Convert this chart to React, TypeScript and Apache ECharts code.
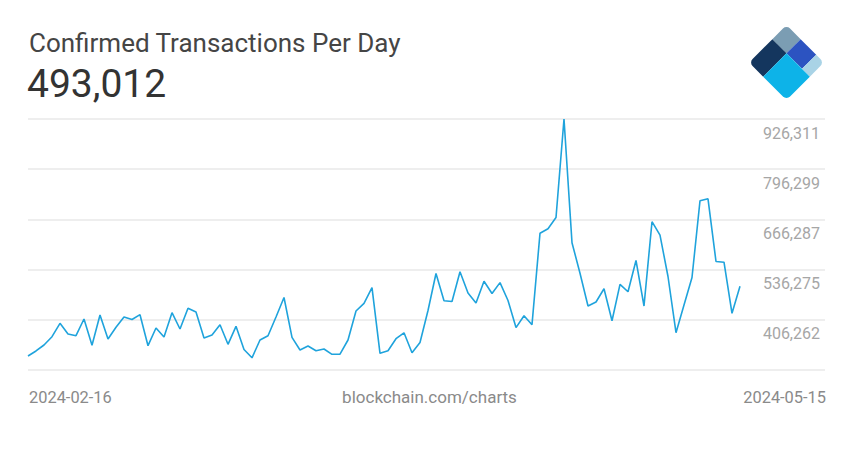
import React, { useEffect, useRef } from "react";
import * as echarts from "echarts";

const titleText = "Confirmed Transactions Per Day";
const headlineValue = "493,012";
const sourceText = "blockchain.com/charts";

const startDate = "2024-02-16";
const dayCount = 90;

const values = [
  312500, 325500, 341000, 362500, 397200, 369500, 365100, 408300, 340200, 418700,
  356500, 386800, 413500, 407000, 419500, 339200, 385000, 361700, 424700, 382400,
  436000, 426500, 359100, 366900, 393600, 342800, 389400, 329300, 307800, 353900,
  365100, 413500, 464000, 360900, 328100, 338400, 326200, 330600, 316900, 317200,
  353900, 429100, 449000, 489400, 319500, 326200, 357300, 372600, 321100, 347500,
  430400, 526200, 455700, 453700, 530800, 475700, 449800, 506200, 474400, 502600,
  456300, 386100, 416900, 393600, 630300, 642200, 671200, 926311, 606000, 526700,
  442000, 452400, 486600, 403700, 498200, 479000, 559900, 442000, 660300, 625400,
  518400, 372900, 444600, 515800, 714500, 719700, 557300, 555500, 423100, 493012,
];

const tickLabels = ["", "406,262", "536,275", "666,287", "796,299", "926,311"];
const axisMin = 276250;
const axisMax = 926311;

function buildDates(start: string, n: number): string[] {
  const out: string[] = [];
  const d0 = new Date(start + "T00:00:00Z").getTime();
  for (let i = 0; i < n; i++) {
    out.push(new Date(d0 + i * 86400000).toISOString().slice(0, 10));
  }
  return out;
}

const dates = buildDates(startDate, dayCount);

export default function App() {
  const ref = useRef<HTMLDivElement>(null);
  useEffect(() => {
    if (!ref.current) return;
    const chart = echarts.init(ref.current, null, { renderer: "svg" });
    const font = "Roboto";
    const S = 53;
    const a = 20;
    const b = 42;
    const off = -S / 2;
    chart.setOption({
      animation: false,
      backgroundColor: "#ffffff",
      grid: [
        { left: 28, right: 34, top: 119, height: 251 },
        { left: 28, width: 712, top: 119, height: 251 },
      ],
      xAxis: [
        { type: "value", gridIndex: 0, min: 0, max: 1, show: false },
        {
          type: "category",
          gridIndex: 1,
          data: dates,
          boundaryGap: false,
          show: false,
        },
      ],
      yAxis: [
        {
          type: "value",
          gridIndex: 0,
          position: "right",
          min: 0,
          max: 5,
          interval: 1,
          axisLine: { show: false },
          axisTick: { show: false },
          splitLine: { show: true, lineStyle: { color: "#e9e9e9", width: 1.5 } },
          axisLabel: {
            inside: true,
            margin: 5,
            fontFamily: font,
            fontSize: 16,
            color: "#a6a6a6",
            verticalAlign: "top",
            padding: [6, 0, 0, 0],
            formatter: (v: number) => tickLabels[v] ?? "",
          },
        },
        {
          type: "value",
          gridIndex: 1,
          min: axisMin,
          max: axisMax,
          show: false,
          splitLine: { show: false },
        },
      ],
      series: [
        {
          type: "line",
          xAxisIndex: 1,
          yAxisIndex: 1,
          data: values,
          showSymbol: false,
          symbol: "none",
          lineStyle: { color: "#1fa3dc", width: 1.6 },
        },
      ],
      graphic: [
        {
          type: "text",
          left: 29,
          top: 30,
          style: { text: titleText, fontFamily: font, fontSize: 26, fill: "#454545" },
        },
        {
          type: "text",
          left: 27,
          top: 64,
          style: { text: headlineValue, fontFamily: font, fontSize: 39, fill: "#333333" },
        },
        {
          type: "text",
          left: 29,
          top: 389,
          style: { text: dates[0], fontFamily: font, fontSize: 16.4, fill: "#8a8a8a" },
        },
        {
          type: "text",
          left: "center",
          top: 388,
          style: { text: sourceText, fontFamily: font, fontSize: 17, fill: "#8a8a8a" },
        },
        {
          type: "text",
          right: 33,
          top: 389,
          style: { text: dates[dates.length - 1], fontFamily: font, fontSize: 16.4, fill: "#8a8a8a" },
        },
        {
          type: "group",
          x: 786.5,
          y: 62.5,
          rotation: -Math.PI / 4,
          children: [
            { type: "rect", shape: { x: off, y: off, width: a, height: a, r: [5, 0, 0, 0] }, style: { fill: "#7b9db3" } },
            { type: "rect", shape: { x: off, y: off + a, width: a, height: S - a, r: [0, 0, 0, 5] }, style: { fill: "#14365e" } },
            { type: "rect", shape: { x: off + a, y: off, width: b - a, height: a, r: 0 }, style: { fill: "#2c53c1" } },
            { type: "rect", shape: { x: off + b, y: off, width: S - b, height: a, r: [0, 5, 0, 0] }, style: { fill: "#a9d3e6" } },
            { type: "rect", shape: { x: off + a, y: off + a, width: S - a, height: S - a, r: [0, 0, 5, 0] }, style: { fill: "#0db3e8" } },
          ],
        },
      ],
    });
    return () => chart.dispose();
  }, []);
  return (
    <div
      ref={ref}
      style={{ position: "fixed", left: 0, top: 0, width: 859, height: 450 }}
    />
  );
}
